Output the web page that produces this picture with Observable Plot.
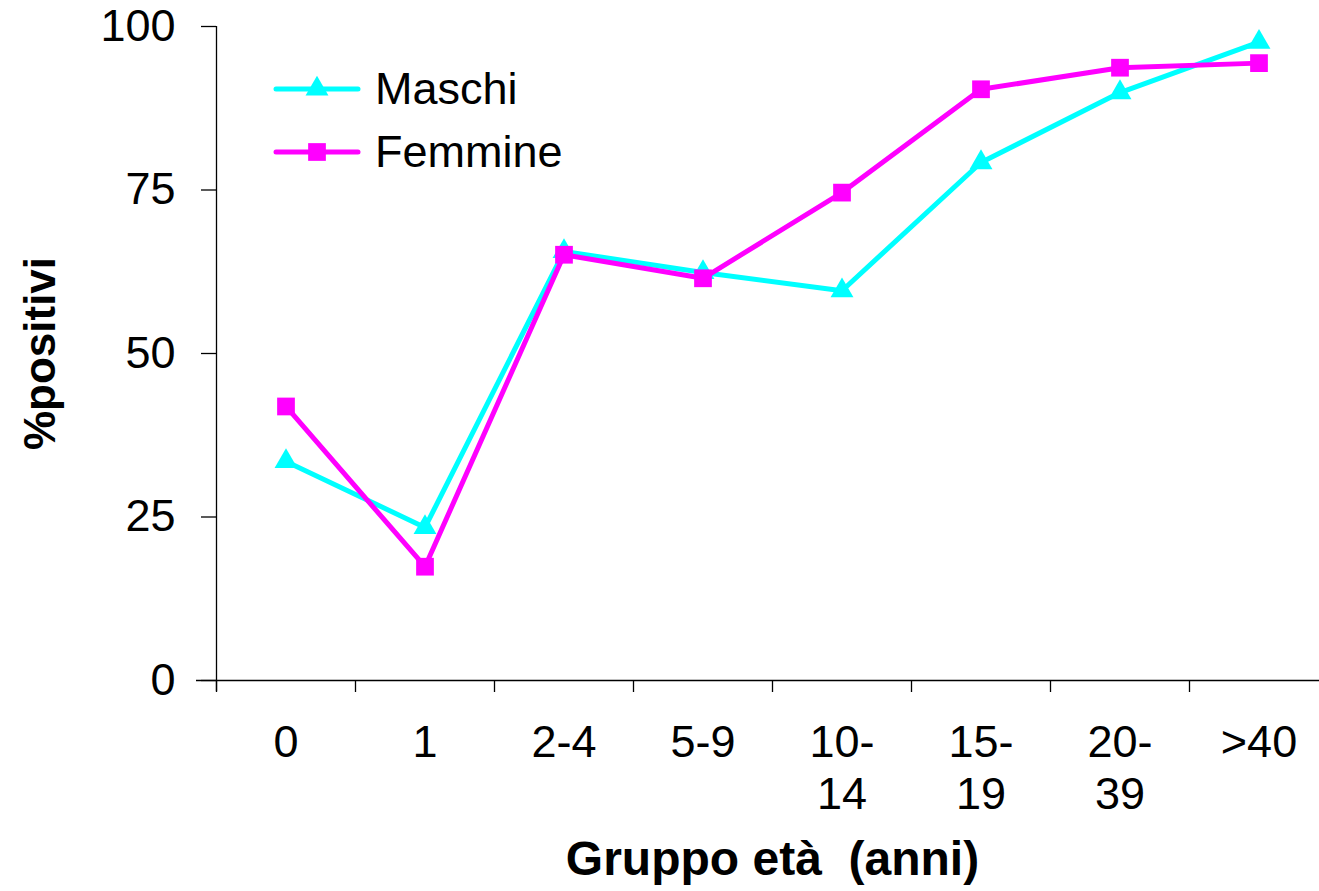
<!DOCTYPE html>
<html><head><meta charset="utf-8">
<script src="https://cdn.jsdelivr.net/npm/d3@7"></script>
<script src="https://cdn.jsdelivr.net/npm/@observablehq/plot@0.6"></script>
<style>
html,body{margin:0;padding:0;background:#fff;overflow:hidden;}
#wrap{position:relative;width:1319px;height:891px;overflow:hidden;font-family:"Liberation Sans",Arial,sans-serif;}
#wrap svg.plot{max-width:none !important;}
#legend{position:absolute;left:272px;top:57px;}
.item{display:flex;align-items:center;height:63px;font-size:45px;color:#000;}
.item span{margin-left:13px;}
</style></head><body><div id="wrap"><div id="legend"></div></div>
<script>
const categories = ["0","1","2-4","5-9","10-\n14","15-\n19","20-\n39",">40"];
const maschi = [33.5,23.4,65.6,62.4,59.6,79.2,89.9,97.6];
const femmine = [41.9,17.4,65.1,61.5,74.6,90.4,93.7,94.4];
const yTicks = [0,25,50,75,100];
const seriesNames = ["Maschi","Femmine"];
const seriesValues = [maschi, femmine];
const seriesColors = ["#00ffff","#ff00ff"];
const seriesSymbols = ["triangle","square"];
const seriesR = [8.5, 10];

const FONT = '"Liberation Sans",Arial,sans-serif';

const seriesMarks = [];
seriesNames.forEach((name, s) => {
  const rows = categories.map((c, i) => ({x: i + 0.5, value: seriesValues[s][i], series: name}));
  seriesMarks.push(Plot.line(rows, {x: "x", y: "value", stroke: seriesColors[s], strokeWidth: 5}));
  seriesMarks.push(Plot.dot(rows, {x: "x", y: "value", symbol: seriesSymbols[s], fill: seriesColors[s], stroke: "none", r: seriesR[s]}));
});

const chart = Plot.plot({
  width: 1330, height: 891,
  marginLeft: 216, marginRight: 2, marginTop: 26, marginBottom: 211,
  style: {fontFamily: FONT, fontSize: "45px", color: "#000", background: "transparent", overflow: "visible", maxWidth: "none"},
  x: {type: "linear", domain: [0, categories.length]},
  y: {domain: [0, 100]},
  marks: [
    Plot.ruleY([0], {insetLeft: -20, stroke: "#000", strokeWidth: 1.3}),
    Plot.ruleX([0], {insetBottom: -11, stroke: "#000", strokeWidth: 1.3}),
    Plot.axisY({ticks: yTicks, tickSize: 15, tickPadding: 26, fontSize: 45, label: null, strokeWidth: 1.3}),
    Plot.axisX({ticks: d3.range(categories.length + 1), tickSize: 12, tickFormat: () => "", label: null, strokeWidth: 1.3}),
    Plot.axisX({ticks: categories.map((c, i) => i + 0.5), tickSize: 0, tickPadding: 40, tickFormat: v => categories[Math.floor(v)], lineHeight: 1.15, fontSize: 45, label: null}),
    Plot.text(["%positivi"], {frameAnchor: "left", dx: -176, rotate: -90, textAnchor: "middle", fontWeight: "bold", fontSize: 44}),
    Plot.text(["Gruppo età\u00a0 (anni)"], {frameAnchor: "bottom", dy: 194, fontWeight: "bold", fontSize: 48}),
    ...seriesMarks
  ]
});
chart.style.maxWidth = "none";
document.getElementById("wrap").prepend(chart);

const legend = document.getElementById("legend");
seriesNames.forEach((name, s) => {
  const item = document.createElement("div");
  item.className = "item";
  const sym = s === 0 ? d3.symbolTriangle : d3.symbolSquare;
  const path = d3.symbol(sym, seriesR[s] * seriesR[s] * Math.PI)();
  item.innerHTML = `<svg width="90" height="40"><line x1="4" x2="86" y1="20" y2="20" stroke="${seriesColors[s]}" stroke-width="5" stroke-linecap="round"/><path transform="translate(45,20)" d="${path}" fill="${seriesColors[s]}"/></svg><span>${name}</span>`;
  legend.appendChild(item);
});
</script>
</body></html>
